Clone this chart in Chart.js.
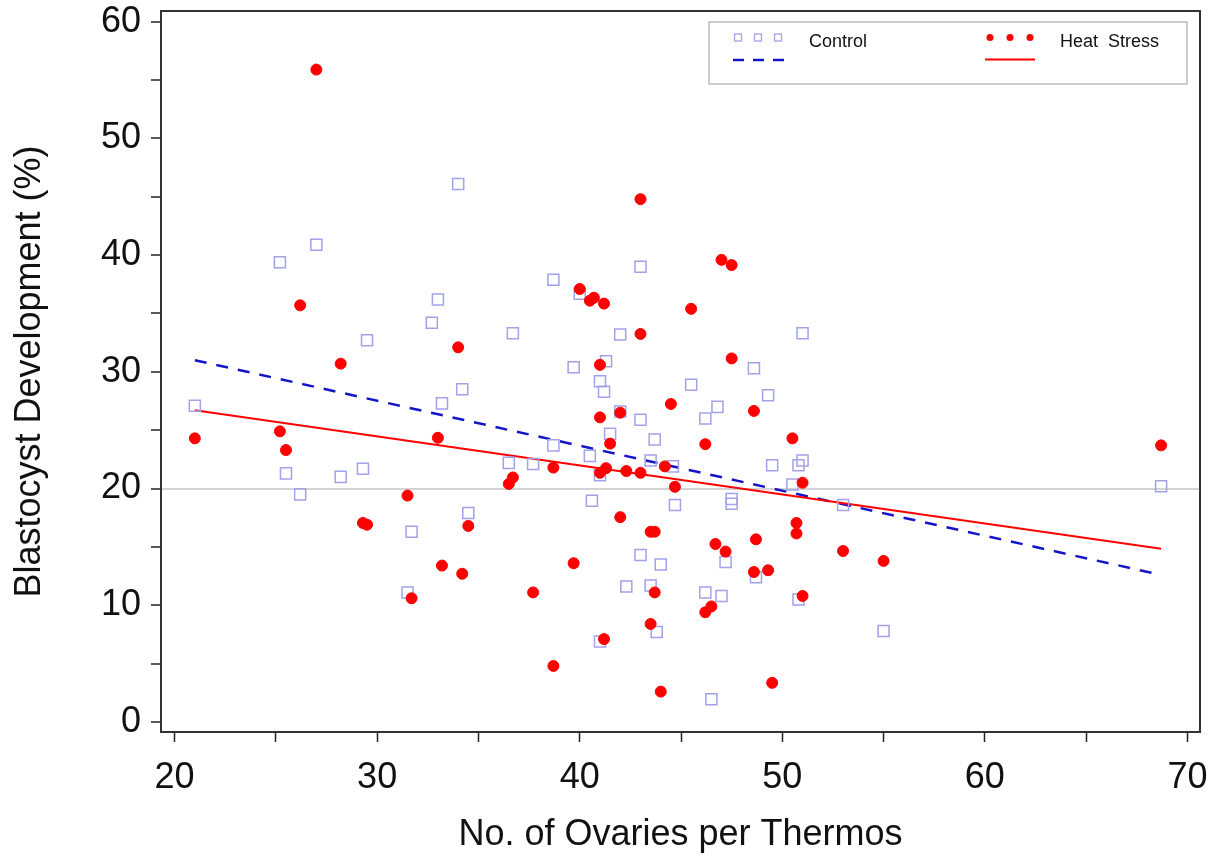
<!DOCTYPE html>
<html>
<head>
<meta charset="utf-8">
<title>Blastocyst Development vs Ovaries per Thermos</title>
<script src="https://cdn.jsdelivr.net/npm/chart.js@4.4.0/dist/chart.umd.min.js"></script>
<style>
  html, body { margin: 0; padding: 0; background: #fff; }
  #wrap { width: 1217px; height: 859px; position: relative; }
</style>
</head>
<body>
<div id="wrap"><canvas id="plot"></canvas></div>
<script>
// Control group (open squares)
const controlX = [21.0, 25.2, 27.0, 25.5, 26.2, 28.2, 29.3, 29.5, 31.5, 31.7,
                  32.7, 33.0, 33.2, 34.0, 34.2, 34.5, 36.5, 36.7, 37.7, 38.7,
                  38.7, 39.7, 40.0, 40.5, 40.6, 41.0, 41.0, 41.0, 41.2, 41.3,
                  41.5, 42.0, 42.0, 42.3, 43.0, 43.0, 43.0, 43.5, 43.5, 43.7,
                  43.8, 44.0, 44.6, 44.7, 45.5, 46.2, 46.2, 46.5, 46.8, 47.0,
                  47.2, 47.5, 47.5, 48.6, 48.7, 49.3, 49.5, 50.5, 50.8, 50.8,
                  51.0, 51.0, 53.0, 55.0, 68.7];
const controlY = [27.1, 39.4, 40.9, 21.3, 19.5, 21.0, 21.7, 32.7, 11.1, 16.3,
                  34.2, 36.2, 27.3, 46.1, 28.5, 17.9, 22.2, 33.3, 22.1, 37.9,
                  23.7, 30.4, 36.7, 22.8, 18.95, 29.2, 21.15, 6.9, 28.3, 30.9,
                  24.7, 33.2, 26.6, 11.6, 39.0, 25.9, 14.3, 11.7, 22.4, 24.2,
                  7.7, 13.5, 21.9, 18.6, 28.9, 26.0, 11.1, 1.95, 27.0, 10.8,
                  13.7, 19.1, 18.7, 30.3, 12.4, 28.0, 22.0, 20.35, 22.0, 10.5,
                  22.4, 33.3, 18.6, 7.8, 20.2];

// Heat stress group (filled circles)
const heatX = [21.0, 25.2, 25.5, 26.2, 27.0, 28.2, 29.3, 29.5, 31.5, 31.7,
               33.0, 33.2, 34.0, 34.2, 34.5, 36.5, 36.7, 37.7, 38.7, 38.7,
               39.7, 40.0, 40.5, 40.7, 41.0, 41.0, 41.0, 41.2, 41.3, 41.2,
               41.5, 42.0, 42.0, 42.3, 43.0, 43.0, 43.0, 43.5, 43.7, 43.5,
               43.7, 44.0, 44.2, 44.5, 44.7, 45.5, 46.2, 46.2, 46.5, 46.7,
               47.0, 47.2, 47.5, 47.5, 48.6, 48.6, 48.7, 49.3, 49.5, 50.5,
               50.7, 50.7, 51.0, 51.0, 53.0, 55.0, 68.7];
const heatY = [24.3, 24.9, 23.3, 35.7, 55.9, 30.7, 17.05, 16.9, 19.4, 10.6,
               24.35, 13.4, 32.1, 12.7, 16.8, 20.4, 20.95, 11.1, 4.8, 21.8,
               13.6, 37.1, 36.1, 36.35, 30.6, 26.1, 21.35, 35.85, 21.75, 7.1,
               23.85, 26.5, 17.55, 21.5, 44.8, 33.25, 21.35, 16.3, 16.3, 8.4,
               11.1, 2.6, 21.9, 27.25, 20.15, 35.4, 23.8, 9.4, 9.9, 15.25,
               39.6, 14.6, 39.15, 31.15, 26.65, 12.85, 15.65, 13.0, 3.35, 24.3,
               17.05, 16.15, 20.5, 10.8, 14.65, 13.8, 23.7];

// Fitted regression lines, drawn between the end points of each fit
const fitX = [21.0, 68.7];
const controlFitY = [31.0, 12.6];
const heatFitY = [26.7, 14.85];

const xTicks = [20, 25, 30, 35, 40, 45, 50, 55, 60, 65, 70];
const yTicks = [0, 5, 10, 15, 20, 25, 30, 35, 40, 45, 50, 55, 60];
const refLineY = 20;

const squareColor = '#a2a2ea';
const heatColor = '#ff0000';
const controlLineColor = '#1414c8';
const FONT = '"Liberation Sans", Arial, Helvetica, sans-serif';

function pairs(xs, ys) {
  return xs.map((x, i) => ({ x: x, y: ys[i] }));
}

// box round the plotting area
const frame = {
  id: 'frame',
  afterDraw(chart) {
    const a = chart.chartArea, c = chart.ctx;
    c.save();
    c.strokeStyle = '#333';
    c.lineWidth = 2;
    c.strokeRect(a.left, a.top, a.right - a.left, a.bottom - a.top);
    c.restore();
  }
};

// SAS style legend: three markers above a line sample, then the label
const keyBox = {
  id: 'keyBox',
  afterDraw(chart) {
    const a = chart.chartArea, c = chart.ctx;
    const left = a.right - 491, top = a.top + 11, w = 478, h = 62;
    c.save();
    c.fillStyle = '#fff';
    c.fillRect(left, top, w, h);
    c.strokeStyle = '#bdbdbd';
    c.lineWidth = 1.5;
    c.strokeRect(left, top, w, h);

    // Control
    c.strokeStyle = squareColor;
    c.lineWidth = 1.3;
    [29, 49, 69].forEach(dx => c.strokeRect(left + dx - 3.5, top + 12, 7, 7));
    c.strokeStyle = controlLineColor;
    c.lineWidth = 2.5;
    c.setLineDash([11, 9]);
    c.beginPath();
    c.moveTo(left + 24, top + 38);
    c.lineTo(left + 76, top + 38);
    c.stroke();
    c.setLineDash([]);

    // Heat Stress
    c.fillStyle = heatColor;
    [281, 301, 321].forEach(dx => {
      c.beginPath();
      c.arc(left + dx, top + 15.5, 3.5, 0, Math.PI * 2);
      c.fill();
    });
    c.strokeStyle = heatColor;
    c.lineWidth = 2;
    c.beginPath();
    c.moveTo(left + 276, top + 37.5);
    c.lineTo(left + 326, top + 37.5);
    c.stroke();

    c.fillStyle = '#111';
    c.font = '18px ' + FONT;
    c.textBaseline = 'middle';
    c.fillText('Control', left + 100, top + 20);
    c.fillText('Heat  Stress', left + 351, top + 20);
    c.restore();
  }
};

const ctx = document.getElementById('plot').getContext('2d');
const chart = new Chart(ctx, {
  type: 'scatter',
  data: {
    datasets: [
      {
        label: 'Heat Stress',
        data: pairs(heatX, heatY),
        pointStyle: 'circle',
        pointRadius: 5.5,
        pointBackgroundColor: heatColor,
        pointBorderColor: heatColor,
        pointBorderWidth: 1
      },
      {
        label: 'Control',
        data: pairs(controlX, controlY),
        pointStyle: 'rect',
        pointRadius: 7.8,
        pointBackgroundColor: 'rgba(0,0,0,0)',
        pointBorderColor: squareColor,
        pointBorderWidth: 1.5
      },
      {
        label: 'Heat Stress fit',
        data: pairs(fitX, heatFitY),
        showLine: true,
        pointRadius: 0,
        borderColor: heatColor,
        borderWidth: 2
      },
      {
        label: 'Control fit',
        data: pairs(fitX, controlFitY),
        showLine: true,
        pointRadius: 0,
        borderColor: controlLineColor,
        borderWidth: 2.5,
        borderDash: [12, 10]
      }
    ]
  },
  options: {
    responsive: true,
    maintainAspectRatio: false,
    animation: false,
    events: [],
    layout: { padding: { top: 11, right: 17, left: 0, bottom: 0 } },
    plugins: {
      legend: { display: false },
      tooltip: { enabled: false }
    },
    scales: {
      x: {
        type: 'linear',
        min: 19.33,
        max: 70.62,
        afterBuildTicks: axis => { axis.ticks = xTicks.map(v => ({ value: v })); },
        afterFit: axis => {
          axis.height = 127;
          axis.paddingLeft = 0;
          axis.paddingRight = 0;
        },
        border: { display: false },
        grid: { drawOnChartArea: false, color: '#222', tickLength: 10, tickWidth: 1.5 },
        ticks: {
          callback: v => (v % 10 === 0 ? v : ''),
          autoSkip: false,
          maxRotation: 0,
          color: '#111',
          padding: 14,
          font: { family: FONT, size: 36 }
        },
        title: {
          display: true,
          text: 'No. of Ovaries per Thermos',
          color: '#111',
          font: { family: FONT, size: 36 },
          padding: { top: 0, bottom: 2 }
        }
      },
      y: {
        type: 'linear',
        min: -0.86,
        max: 60.92,
        afterBuildTicks: axis => { axis.ticks = yTicks.map(v => ({ value: v })); },
        afterFit: axis => {
          axis.width = 161;
          axis.paddingTop = 0;
          axis.paddingBottom = 0;
        },
        border: { display: false },
        grid: {
          color: c => (c.tick && c.tick.value === refLineY ? '#d4d4d4' : 'rgba(0,0,0,0)'),
          tickColor: '#222',
          lineWidth: 2,
          tickWidth: 1.5,
          tickLength: 10
        },
        ticks: {
          callback: v => (v % 10 === 0 ? v : ''),
          autoSkip: false,
          color: '#111',
          padding: 10,
          font: { family: FONT, size: 36 }
        },
        title: {
          display: true,
          text: 'Blastocyst Development (%)',
          color: '#111',
          font: { family: FONT, size: 36 },
          padding: { top: 8, bottom: 0 }
        }
      }
    }
  },
  plugins: [frame, keyBox]
});
</script>
</body>
</html>
